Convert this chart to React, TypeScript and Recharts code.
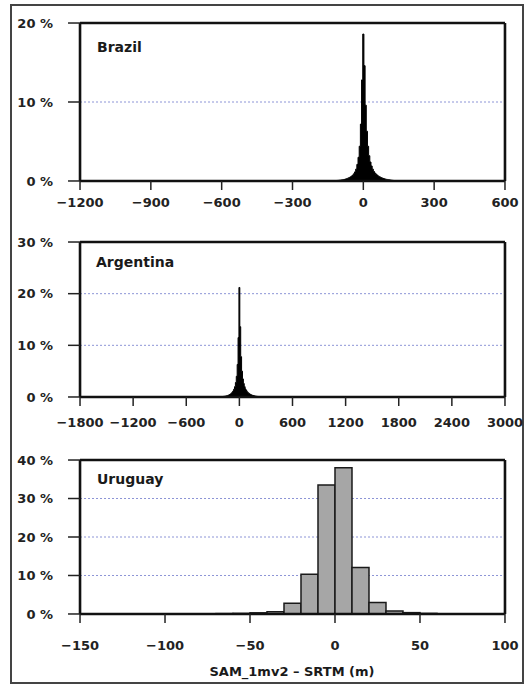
import React from 'react';
import { ComposedChart, Area, Bar, XAxis, YAxis, CartesianGrid } from 'recharts';

// ---------- Data ----------
const brazilBins = [
  -120, -115, -110, -105, -100, -95, -90, -85, -80, -75, -70, -65, -60, -55, -50, -45, -40, -35, -30, -25, -20, -15, -10, -5,
  0,
  5, 10, 15, 20, 25, 30, 35, 40, 45, 50, 55, 60, 65, 70, 75, 80, 85, 90, 95, 100, 105, 110, 115, 120, 125, 130,
];
const brazilPct = [
  0.05, 0.06, 0.07, 0.08, 0.1, 0.12, 0.14, 0.17, 0.2, 0.24, 0.29, 0.35, 0.42, 0.5, 0.6, 0.72, 0.9, 1.15, 1.5, 2.1, 3.0, 4.4, 7.2, 12.8,
  18.6,
  14.6, 9.6, 6.3, 4.4, 3.2, 2.4, 1.9, 1.5, 1.2, 1.0, 0.85, 0.72, 0.6, 0.52, 0.44, 0.38, 0.32, 0.27, 0.23, 0.2, 0.17, 0.14, 0.12, 0.1, 0.08, 0.06,
];

const argentinaBins = [
  -250, -240, -230, -220, -210, -200, -190, -180, -170, -160, -150, -140, -130, -120, -110, -100, -90, -80, -70, -60, -50, -40, -30, -20, -10,
  0,
  10, 20, 30, 40, 50, 60, 70, 80, 90, 100, 110, 120, 130, 140, 150, 160, 170, 180, 190, 200, 210, 220, 230, 240, 250, 260, 270, 280, 290, 300,
];
const argentinaPct = [
  0.02, 0.03, 0.04, 0.05, 0.06, 0.07, 0.09, 0.11, 0.13, 0.16, 0.2, 0.25, 0.3, 0.37, 0.46, 0.57, 0.72, 0.9, 1.15, 1.5, 2.0, 2.8, 4.0, 6.3, 11.5,
  21.2,
  13.6, 7.8, 5.0, 3.5, 2.6, 2.0, 1.55, 1.25, 1.0, 0.82, 0.68, 0.56, 0.46, 0.38, 0.32, 0.27, 0.22, 0.18, 0.15, 0.12, 0.1, 0.08, 0.07, 0.06, 0.05, 0.04, 0.03, 0.03, 0.02, 0.02,
];

const uruguayBins = [-65, -55, -45, -35, -25, -15, -5, 5, 15, 25, 35, 45, 55];
const uruguayPct = [0.1, 0.15, 0.3, 0.6, 2.8, 10.3, 33.5, 38.0, 12.1, 3.0, 0.8, 0.35, 0.15];

const brazilXTicks = [-1200, -900, -600, -300, 0, 300, 600];
const argentinaXTicks = [-1800, -1200, -600, 0, 600, 1200, 1800, 2400, 3000];
const uruguayXTicks = [-150, -100, -50, 0, 50, 100];

const brazilYTicks = [0, 10, 20];
const argentinaYTicks = [0, 10, 20, 30];
const uruguayYTicks = [0, 10, 20, 30, 40];

const panelTitles = ['Brazil', 'Argentina', 'Uruguay'];
const xAxisTitle = 'SAM_1mv2 \u2013 SRTM (m)';

// ---------- helpers ----------
const steps = (from: number, to: number, step: number) => {
  const out: number[] = [];
  for (let v = from; v <= to + 1e-9; v += step) out.push(v);
  return out;
};
const fmtX = (v: number) => (v < 0 ? '\u2212' + Math.abs(v) : String(v));
const fmtY = (v: number) => `${v} %`;

const FONT = "'DejaVu Sans', sans-serif";
const AXIS_LINE = { stroke: '#111', strokeWidth: 2.6 };
const TICK_LINE = { stroke: '#222', strokeWidth: 1.5 };
const THIN = 0.01;

const XTick = (props: any) => {
  const { x, y, payload } = props;
  return (
    <text x={x} y={y} dy="0.71em" textAnchor="middle" fontFamily={FONT} fontSize={13} fontWeight={700} fill="#222">
      {fmtX(payload.value)}
    </text>
  );
};
const YTick = (props: any) => {
  const { x, y, payload } = props;
  return (
    <text x={x} y={y} dy="0.35em" textAnchor="end" fontFamily={FONT} fontSize={13} fontWeight={700} fill="#222">
      {fmtY(payload.value)}
    </text>
  );
};

type PanelProps = {
  top: number;
  height: number;
  plotTop: number;
  plotBottom: number;
  bins: number[];
  pct: number[];
  xDomain: [number, number];
  xMajor: number[];
  xMinor: number[];
  yMax: number;
  yMajor: number[];
  yMinor: number[];
  kind: 'area' | 'bar';
  xLabelGap: number;
};

function Panel(p: PanelProps) {
  const data = p.bins.map((x, i) => ({ x, y: p.pct[i] }));
  const yDomain: [number, number] = [0, p.yMax];
  return (
    <div style={{ position: 'absolute', left: 0, top: p.top, width: 528, height: p.height }}>
      <ComposedChart
        width={528}
        height={p.height}
        data={data}
        margin={{ top: p.plotTop, left: 80, right: 23, bottom: p.height - p.plotBottom }}
        barCategoryGap={0}
        barGap={0}
      >
        <CartesianGrid
          xAxisId="xb"
          yAxisId="yl"
          vertical={false}
          stroke="#8c94d6"
          strokeDasharray="2 2"
          strokeWidth={1}
        />
        {/* minor ticks */}
        <XAxis xAxisId="xbm" orientation="bottom" type="number" domain={p.xDomain} allowDataOverflow
          ticks={p.xMinor} interval={0} height={THIN} tickSize={4} tick={false} axisLine={false} tickLine={TICK_LINE} />
        <XAxis xAxisId="xtm" orientation="top" type="number" domain={p.xDomain} allowDataOverflow
          ticks={p.xMinor} interval={0} height={THIN} tickSize={4} tick={false} axisLine={false} tickLine={TICK_LINE} />
        <YAxis yAxisId="ylm" orientation="left" type="number" domain={yDomain} allowDataOverflow
          ticks={p.yMinor} interval={0} width={THIN} tickSize={6} tick={false} axisLine={false} tickLine={TICK_LINE} />
        <YAxis yAxisId="yrm" orientation="right" type="number" domain={yDomain} allowDataOverflow
          ticks={p.yMinor} interval={0} width={THIN} tickSize={5} tick={false} axisLine={false} tickLine={TICK_LINE} />
        {/* major axes */}
        <XAxis xAxisId="xb" orientation="bottom" type="number" dataKey="x" domain={p.xDomain} allowDataOverflow
          ticks={p.xMajor} interval={0} height={THIN} tickSize={9} tickMargin={p.xLabelGap}
          axisLine={AXIS_LINE} tickLine={TICK_LINE} tick={<XTick />} />
        <XAxis xAxisId="xt" orientation="top" type="number" domain={p.xDomain} allowDataOverflow
          ticks={p.xMajor} interval={0} height={THIN} tickSize={8} tick={false}
          axisLine={AXIS_LINE} tickLine={TICK_LINE} />
        <YAxis yAxisId="yl" orientation="left" type="number" domain={yDomain} allowDataOverflow
          ticks={p.yMajor} interval={0} width={THIN} tickSize={12} tickMargin={15}
          axisLine={AXIS_LINE} tickLine={TICK_LINE} tick={<YTick />} />
        <YAxis yAxisId="yr" orientation="right" type="number" domain={yDomain} allowDataOverflow
          ticks={p.yMajor} interval={0} width={THIN} tickSize={10} tick={false}
          axisLine={AXIS_LINE} tickLine={TICK_LINE} />
        {p.kind === 'area' ? (
          <Area xAxisId="xb" yAxisId="yl" type="step" dataKey="y" fill="#000" fillOpacity={1}
            stroke="#000" strokeWidth={1} isAnimationActive={false} dot={false} activeDot={false} />
        ) : (
          <Bar xAxisId="xb" yAxisId="yl" dataKey="y" fill="#a6a6a6" stroke="#1a1a1a" strokeWidth={1.5}
            isAnimationActive={false} />
        )}
      </ComposedChart>
    </div>
  );
}

const titleStyle: React.CSSProperties = {
  position: 'absolute',
  fontFamily: FONT,
  fontSize: 14,
  fontWeight: 700,
  color: '#1a1a1a',
  lineHeight: '16px',
  whiteSpace: 'nowrap',
};

export default function App() {
  return (
    <div style={{ position: 'absolute', left: 0, top: 0, width: 528, height: 684, background: '#fff', overflow: 'hidden' }}>
      <div style={{ position: 'absolute', left: 10, top: 4, width: 510, height: 676, border: '2px solid #444' }} />
      <Panel top={0} height={230} plotTop={23} plotBottom={181}
        bins={brazilBins} pct={brazilPct} xDomain={[-1200, 600]}
        xMajor={brazilXTicks} xMinor={steps(-1200, 600, 50)}
        yMax={20} yMajor={brazilYTicks} yMinor={[5, 15]} kind="area" xLabelGap={8} />
      <Panel top={220} height={220} plotTop={22} plotBottom={177}
        bins={argentinaBins} pct={argentinaPct} xDomain={[-1800, 3000]}
        xMajor={argentinaXTicks} xMinor={steps(-1800, 3000, 100)}
        yMax={30} yMajor={argentinaYTicks} yMinor={[5, 15, 25]} kind="area" xLabelGap={12} />
      <Panel top={430} height={254} plotTop={30} plotBottom={184}
        bins={uruguayBins} pct={uruguayPct} xDomain={[-150, 100]}
        xMajor={uruguayXTicks} xMinor={steps(-150, 100, 10)}
        yMax={40} yMajor={uruguayYTicks} yMinor={[5, 15, 25, 35]} kind="bar" xLabelGap={18} />
      <div style={{ ...titleStyle, left: 97, top: 39 }}>{panelTitles[0]}</div>
      <div style={{ ...titleStyle, left: 96, top: 254 }}>{panelTitles[1]}</div>
      <div style={{ ...titleStyle, left: 97, top: 471 }}>{panelTitles[2]}</div>
      <div style={{ ...titleStyle, fontSize: 13, left: 292, top: 664, transform: 'translateX(-50%)' }}>{xAxisTitle}</div>
    </div>
  );
}
